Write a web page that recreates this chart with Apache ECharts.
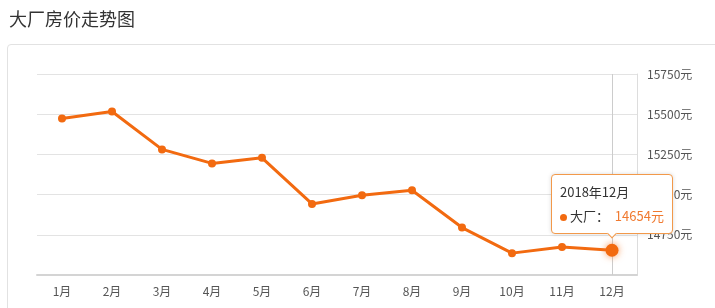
<!DOCTYPE html>
<html>
<head>
<meta charset="utf-8">
<script src="https://cdn.jsdelivr.net/npm/echarts@6/dist/echarts.min.js"></script>
<style>
html,body{margin:0;padding:0;width:715px;height:308px;overflow:hidden;background:#fff;}
#panel{position:absolute;left:7px;top:44px;width:760px;height:300px;border:1px solid #e2e2e2;border-radius:4px;box-sizing:border-box;}
#chart{position:absolute;left:0;top:0;width:715px;height:308px;}
</style>
</head>
<body>
<div id="panel"></div>
<div id="chart"></div>
<script>
var titleText = '大厂房价走势图';
var seriesName = '大厂';
var year = '2018';
var months = ['1月','2月','3月','4月','5月','6月','7月','8月','9月','10月','11月','12月'];
var prices = [15473, 15517, 15281, 15194, 15229, 14942, 14996, 15027, 14795, 14636, 14674, 14654];
var yMin = 14500, yMax = 15750, yStep = 250;
var highlightIndex = 11;

var lineColor = '#f26a10';
var dataItems = prices.map(function (v, i) {
  if (i === highlightIndex) {
    return {
      value: v,
      symbolSize: 13,
      itemStyle: { color: lineColor, shadowBlur: 7, shadowColor: 'rgba(245,120,40,0.75)' }
    };
  }
  return v;
});

var chart = echarts.init(document.getElementById('chart'));
chart.setOption({
  animation: false,
  title: {
    text: titleText,
    left: 4, top: 5,
    textStyle: { fontSize: 18, fontWeight: 'normal', color: '#333', fontFamily: '"Noto Sans CJK SC", sans-serif' }
  },
  textStyle: { fontFamily: '"Noto Sans CJK SC", sans-serif' },
  grid: { left: 37, right: 78, top: 74, bottom: 33 },
  tooltip: {
    trigger: 'item',
    position: 'top',
    alwaysShowContent: true,
    transitionDuration: 0,
    showDelay: 0,
    backgroundColor: '#fff',
    borderColor: '#f2994a',
    borderWidth: 1,
    borderRadius: 4,
    padding: [5, 8],
    extraCssText: 'box-shadow:0 0 4px rgba(0,0,0,0.15);',
    formatter: function (p) {
      return '<div style="font-family:\'Noto Sans CJK SC\',sans-serif;font-size:13px;color:#333;line-height:24px;">' +
        '<div>' + year + '年' + p.name + '</div>' +
        '<div><span style="display:inline-block;width:7px;height:7px;border-radius:50%;background:' + lineColor + ';margin-right:3px;vertical-align:middle;"></span>' +
        seriesName + '：&nbsp;&nbsp;<span style="color:#f07a30;">' + p.value + '元</span></div></div>';
    }
  },
  xAxis: {
    type: 'category',
    data: months,
    boundaryGap: true,
    axisLine: { lineStyle: { color: '#d4d4d4', width: 2 } },
    axisTick: { alignWithLabel: true, length: 4, lineStyle: { color: '#ccc' } },
    axisLabel: { color: '#555', fontSize: 12, margin: 10 },
    splitLine: { show: false }
  },
  yAxis: {
    type: 'value',
    position: 'right',
    min: yMin, max: yMax, interval: yStep,
    axisLine: { show: true, lineStyle: { color: '#ddd', width: 1 } },
    axisTick: { show: false },
    axisLabel: {
      color: '#555', fontSize: 12, margin: 10, showMinLabel: false,
      formatter: function (v) { return String(v) + '元'; }
    },
    splitLine: { lineStyle: { color: '#e3e3e3' } }
  },
  series: [{
    name: seriesName,
    type: 'line',
    data: dataItems,
    symbol: 'circle',
    symbolSize: 8,
    lineStyle: { color: lineColor, width: 3 },
    itemStyle: { color: lineColor },
    z: 3,
    markLine: {
      silent: true,
      symbol: 'none',
      label: { show: false },
      lineStyle: { color: '#ccc', type: 'solid', width: 1 },
      z: 1,
      data: [{ xAxis: months[highlightIndex] }]
    }
  }]
});
chart.dispatchAction({ type: 'showTip', seriesIndex: 0, dataIndex: highlightIndex });
</script>
</body>
</html>
